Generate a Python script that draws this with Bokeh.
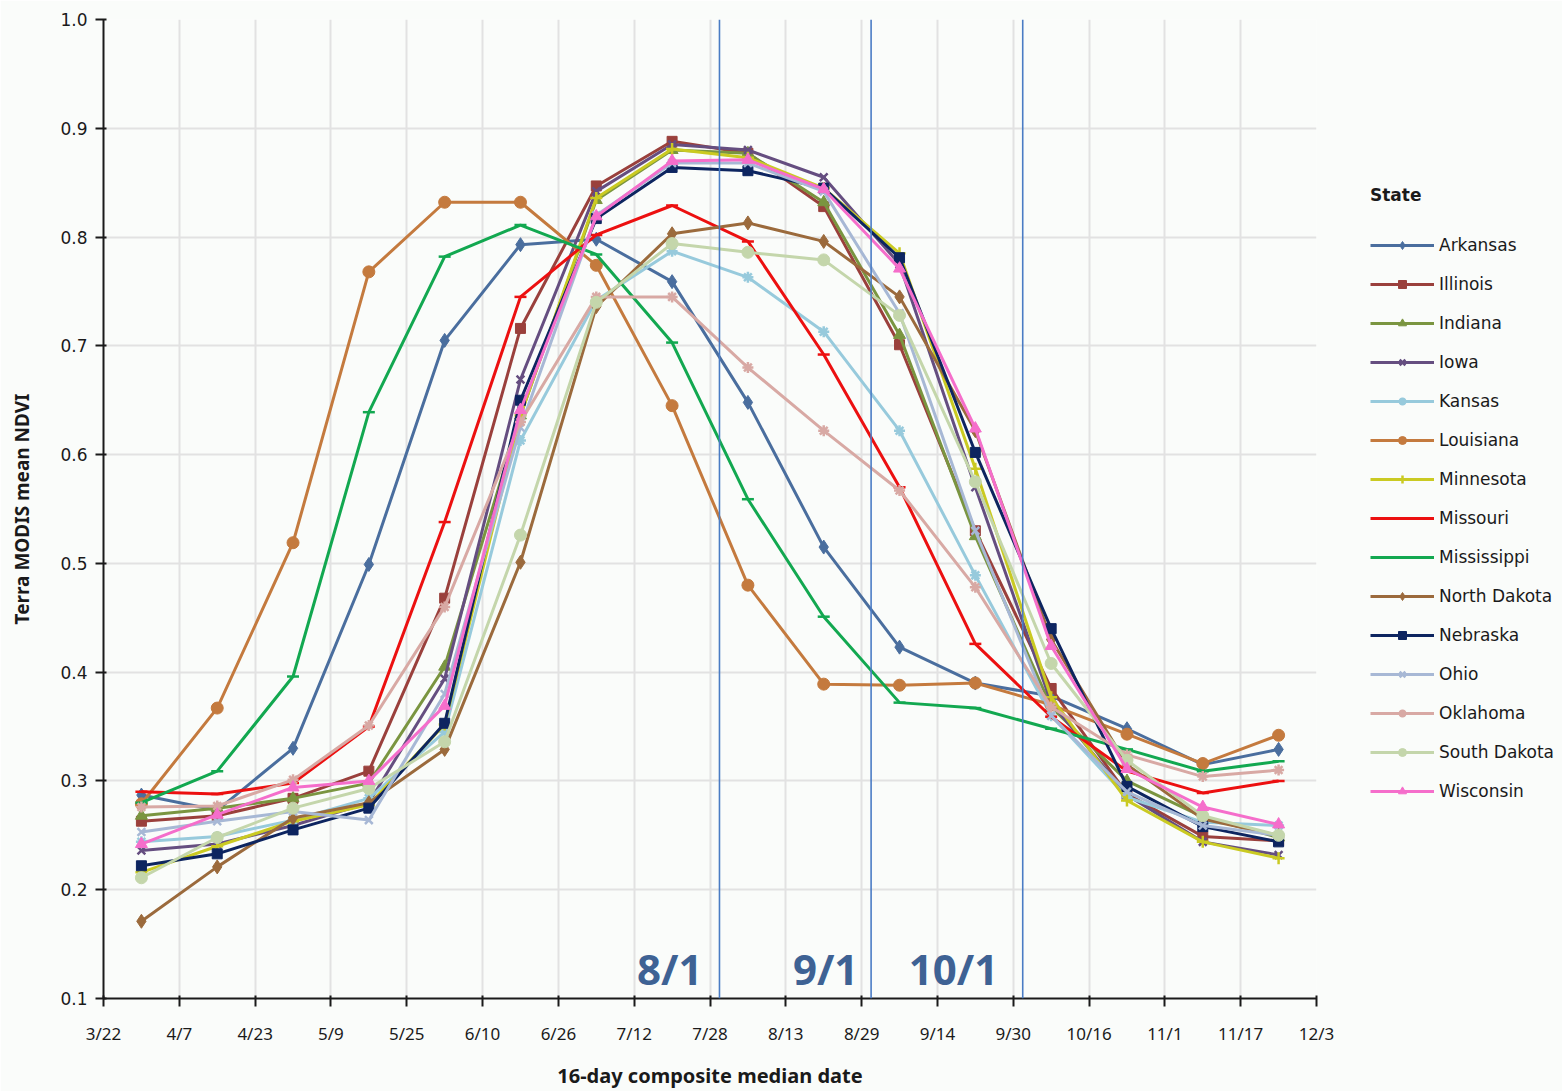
from datetime import date
from bokeh.plotting import figure
from bokeh.models import (Range1d, FixedTicker, NumeralTickFormatter, Span, Label,
                          Legend, LegendItem)
from bokeh.embed import file_html
from bokeh.resources import INLINE

# ---------------- data ----------------
tick_labels = ["3/22", "4/7", "4/23", "5/9", "5/25", "6/10", "6/26", "7/12", "7/28",
               "8/13", "8/29", "9/14", "9/30", "10/16", "11/1", "11/17", "12/3"]
composite_dates = ["3/30", "4/15", "5/1", "5/17", "6/2", "6/18", "7/4", "7/20",
                   "8/5", "8/21", "9/6", "9/22", "10/8", "10/24", "11/9", "11/25"]
y_ticks = [0.1, 0.2, 0.3, 0.4, 0.5, 0.6, 0.7, 0.8, 0.9, 1.0]

states = ["Arkansas", "Illinois", "Indiana", "Iowa", "Kansas", "Louisiana", "Minnesota",
          "Missouri", "Mississippi", "North Dakota", "Nebraska", "Ohio", "Oklahoma",
          "South Dakota", "Wisconsin"]

arkansas = [0.287, 0.273, 0.330, 0.499, 0.705, 0.793, 0.798, 0.759, 0.648, 0.515, 0.423, 0.390, 0.378, 0.348, 0.315, 0.329]
illinois = [0.263, 0.268, 0.284, 0.309, 0.468, 0.716, 0.847, 0.888, 0.877, 0.828, 0.701, 0.530, 0.385, 0.288, 0.249, 0.245]
indiana = [0.268, 0.275, 0.284, 0.298, 0.405, 0.636, 0.834, 0.880, 0.877, 0.832, 0.710, 0.525, 0.368, 0.300, 0.267, 0.248]
iowa = [0.236, 0.242, 0.259, 0.280, 0.394, 0.669, 0.842, 0.885, 0.880, 0.855, 0.775, 0.570, 0.372, 0.287, 0.244, 0.232]
kansas = [0.244, 0.249, 0.264, 0.284, 0.345, 0.613, 0.742, 0.787, 0.763, 0.713, 0.622, 0.489, 0.360, 0.285, 0.262, 0.259]
louisiana = [0.279, 0.367, 0.519, 0.768, 0.832, 0.832, 0.774, 0.645, 0.480, 0.389, 0.388, 0.390, 0.370, 0.343, 0.316, 0.342]
minnesota = [0.216, 0.240, 0.263, 0.278, 0.352, 0.636, 0.836, 0.881, 0.873, 0.845, 0.785, 0.587, 0.377, 0.282, 0.244, 0.229]
missouri = [0.290, 0.288, 0.298, 0.350, 0.538, 0.745, 0.802, 0.829, 0.796, 0.692, 0.570, 0.426, 0.359, 0.309, 0.289, 0.300]
mississippi = [0.280, 0.309, 0.396, 0.639, 0.782, 0.811, 0.784, 0.703, 0.559, 0.451, 0.372, 0.367, 0.348, 0.329, 0.309, 0.318]
north_dakota = [0.171, 0.221, 0.266, 0.280, 0.329, 0.501, 0.736, 0.803, 0.813, 0.796, 0.745, 0.622, 0.430, 0.315, 0.265, 0.250]
nebraska = [0.222, 0.233, 0.255, 0.275, 0.353, 0.650, 0.817, 0.864, 0.861, 0.845, 0.781, 0.602, 0.440, 0.295, 0.258, 0.244]
ohio = [0.253, 0.263, 0.272, 0.264, 0.380, 0.625, 0.820, 0.868, 0.868, 0.842, 0.730, 0.530, 0.360, 0.290, 0.259, 0.250]
oklahoma = [0.276, 0.277, 0.301, 0.351, 0.460, 0.630, 0.745, 0.745, 0.680, 0.622, 0.567, 0.478, 0.368, 0.324, 0.304, 0.310]
south_dakota = [0.211, 0.248, 0.275, 0.293, 0.336, 0.526, 0.740, 0.794, 0.786, 0.779, 0.728, 0.575, 0.408, 0.319, 0.268, 0.250]
wisconsin = [0.242, 0.269, 0.294, 0.300, 0.369, 0.641, 0.819, 0.870, 0.871, 0.844, 0.771, 0.624, 0.424, 0.311, 0.276, 0.260]

month_labels = ["8/1", "9/1", "10/1"]

series = [arkansas, illinois, indiana, iowa, kansas, louisiana, minnesota, missouri,
          mississippi, north_dakota, nebraska, ohio, oklahoma, south_dakota, wisconsin]

# ---------------- styles ----------------
colors = ["#4A6E9E", "#9A403C", "#7A9540", "#654E80", "#97CADC", "#C47A3E", "#CACA22",
          "#EC1010", "#12A850", "#9B6A3C", "#0D2560", "#A7B8D5", "#D8A9A4", "#C4D6AB",
          "#F56ECB"]
markers = ["diamond", "square", "triangle", "x", "asterisk", "circle", "cross", "dash",
           "dash", "diamond", "square", "x", "asterisk", "circle", "triangle"]
msizes = [14, 10, 12, 11, 11, 12, 12, 12, 12, 14, 10, 11, 11, 12, 12]


def day_offset(md):
    m, d = map(int, md.split("/"))
    return (date(2011, m, d) - date(2011, 3, 22)).days


x_ticks = [day_offset(t) for t in tick_labels]
xs = [day_offset(t) for t in composite_dates]

BG = "#FAFCFA"
p = figure(frame_width=1213, frame_height=979, output_backend="svg", toolbar_location=None,
           x_range=Range1d(0, 256), y_range=Range1d(0.1, 1.0),
           min_border_left=103, min_border_right=240, min_border_top=19, min_border_bottom=88,
           background_fill_color=BG, border_fill_color=BG, outline_line_color=None)

p.xaxis.ticker = FixedTicker(ticks=x_ticks)
p.xaxis.major_label_overrides = {t: l for t, l in zip(x_ticks, tick_labels)}
p.yaxis.ticker = FixedTicker(ticks=y_ticks)
p.yaxis.formatter = NumeralTickFormatter(format="0.0")

for ax in (p.xaxis[0], p.yaxis[0]):
    ax.axis_line_width = 2
    ax.axis_line_color = "#1a1a1a"
    ax.major_tick_line_color = "#1a1a1a"
    ax.major_tick_line_width = 2
    ax.minor_tick_line_color = None
    ax.major_tick_out = 8
    ax.major_tick_in = 3
    ax.axis_label_text_font_style = "bold"
    ax.axis_label_text_color = "#1a1a1a"
    ax.major_label_text_color = "#1a1a1a"

p.xaxis.major_label_text_font = "Noto Sans"
p.xaxis.major_label_text_font_size = "17px"
p.xaxis.major_label_standoff = 15
p.xaxis.axis_label = "16-day composite median date"
p.xaxis.axis_label_text_font = "Noto Sans"
p.xaxis.axis_label_text_font_size = "20px"
p.xaxis.axis_label_standoff = 14

p.yaxis.major_label_text_font = "DejaVu Sans"
p.yaxis.major_label_text_font_size = "17px"
p.yaxis.major_label_standoff = 8
p.yaxis.axis_label = "Terra MODIS mean NDVI"
p.yaxis.axis_label_text_font = "Noto Sans"
p.yaxis.axis_label_text_font_size = "19px"
p.yaxis.axis_label_standoff = 22

p.xgrid.ticker = FixedTicker(ticks=x_ticks)
for g in (p.xgrid[0], p.ygrid[0]):
    g.grid_line_color = "#E2E2E2"
    g.grid_line_width = 2

items = []
for name, vals, c, m, s in zip(states, series, colors, markers, msizes):
    lr = p.line(xs, vals, line_color=c, line_width=3)
    if m in ("x", "asterisk", "cross", "dash"):
        sr = p.scatter(xs, vals, marker=m, size=s, line_color=c, line_width=2.5, fill_color=c)
    else:
        sr = p.scatter(xs, vals, marker=m, size=s, line_color=c, fill_color=c)
    items.append(LegendItem(label=name, renderers=[lr, sr]))

# vertical month lines (day offsets from 3/22 as drawn in the figure)
for loc in (130, 162, 194):
    p.add_layout(Span(location=loc, dimension="height", line_color="#4A7CC4", line_width=1.6))

for lab, xc in zip(month_labels, (119.5, 152.4, 179.4)):
    p.add_layout(Label(x=xc, y=0.128, text=lab, text_align="center", text_baseline="middle",
                       text_font="Liberation Sans Narrow, Noto Sans", text_font_size="42px",
                       text_font_style="bold", text_color="#3E6294"))

legend = Legend(items=items, location=(54, 197), orientation="vertical",
                title="State", title_text_font="DejaVu Sans", title_text_font_size="17px",
                title_text_font_style="bold", title_text_color="#1a1a1a", title_standoff=30,
                glyph_width=64, glyph_height=20, label_height=20, spacing=19,
                label_standoff=5, padding=0, margin=0,
                label_text_font="DejaVu Sans", label_text_font_size="17px",
                label_text_color="#1a1a1a",
                border_line_color=None, background_fill_alpha=0)
p.add_layout(legend, "right")

open("out.html", "w").write(file_html(p, INLINE))
